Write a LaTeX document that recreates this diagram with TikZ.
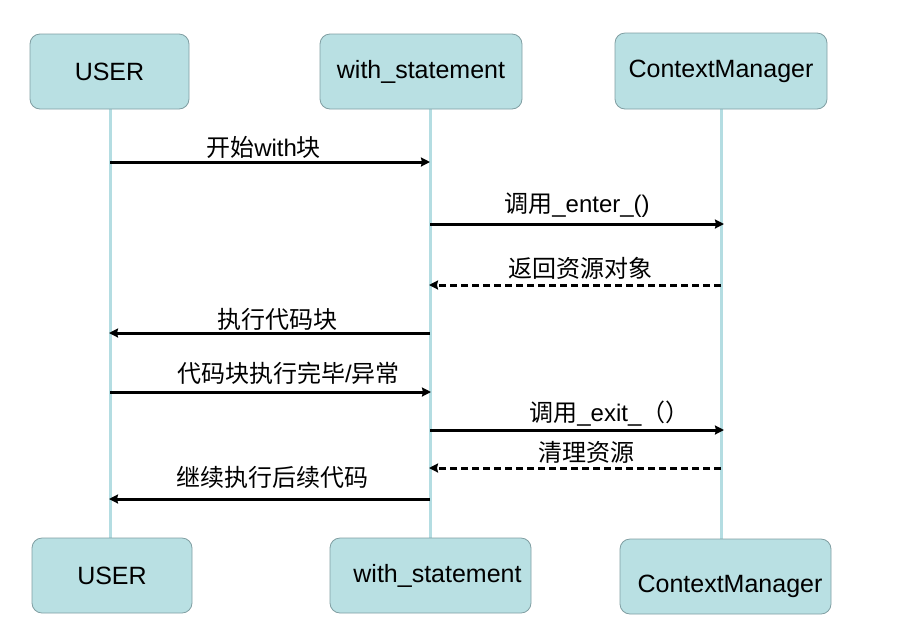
\documentclass[tikz,border=0pt]{standalone}
\usepackage{fontspec}
\setmainfont{Liberation Sans}
\newfontfamily\cjk{Noto Sans CJK SC}
\usetikzlibrary{arrows.meta}
\definecolor{boxfill}{RGB}{185,224,227}
\definecolor{boxdraw}{RGB}{128,158,162}
\definecolor{lifecol}{RGB}{180,221,226}
\tikzset{
  actor/.style={draw=boxdraw, fill=boxfill, rounded corners=10pt, line width=0.8pt,
    inner sep=0pt, font=\fontsize{25}{29}\selectfont},
  life/.style={draw=lifecol, line width=3pt},
  msg/.style={line width=3pt, -{Stealth[length=9pt,width=9pt,inset=1pt]}},
  ret/.style={msg, dash pattern=on 7pt off 4pt},
  lbl/.style={font=\fontsize{24}{28}\selectfont, inner sep=0pt, anchor=center}
}
\begin{document}
\begin{tikzpicture}[x=1pt,y=-1pt]
\useasboundingbox (0,0) rectangle (916,641);
% lifelines
\coordinate (uT) at (110,109); \coordinate (uB) at (110,538);
\coordinate (wT) at (430,109); \coordinate (wB) at (430,538);
\coordinate (cT) at (721,109); \coordinate (cB) at (721,539);
\draw[life] (uT) -- (uB);
\draw[life] (wT) -- (wB);
\draw[life] (cT) -- (cB);
% boxes
\node[actor, minimum width=159pt, minimum height=75pt] (user1) at (109.5,71.5) {USER};
\node[actor, minimum width=202pt, minimum height=75pt] (with1) at (421,71.5) {with\_statement};
\node[actor, minimum width=212pt, minimum height=76pt] (cm1) at (721,71) {ContextManager};
\node[actor, minimum width=160pt, minimum height=75pt] (user2) at (112,575.5) {USER};
\node[actor, minimum width=201pt, minimum height=75pt] (with2) at (430.5,575.5) {\hspace*{14pt}with\_statement};
\node[actor, minimum width=211pt, minimum height=75pt, text height=36pt, text depth=5pt] (cm2) at (725.5,576.5) {\hspace*{9pt}ContextManager};
% message endpoints
\coordinate (u1) at (110,162); \coordinate (w1) at (430,162);
\coordinate (w2) at (430,224); \coordinate (c2) at (724,224);
\coordinate (c3) at (721,285); \coordinate (w3) at (429,285);
\coordinate (w4) at (430,333); \coordinate (u4) at (109,333);
\coordinate (u5) at (110,392); \coordinate (w5) at (431,392);
\coordinate (w6) at (430,430); \coordinate (c6) at (724,430);
\coordinate (c7) at (721,468); \coordinate (w7) at (429,468);
\coordinate (w8) at (430,499); \coordinate (u8) at (109,499);
% messages
\draw[msg] (u1) -- node[lbl, pos=0.48, yshift=15pt] (l1) {{\cjk 开始}with{\cjk 块}} (w1);
\draw[msg] (w2) -- node[lbl, pos=0.50, yshift=19pt] (l2) {{\cjk 调用}\_enter\_()} (c2);
\draw[ret] (c3) -- node[lbl, pos=0.48, yshift=17pt] (l3) {\cjk 返回资源对象} (w3);
\draw[msg] (w4) -- node[lbl, pos=0.475, yshift=14pt] (l4) {\cjk 执行代码块} (u4);
\draw[msg] (u5) -- node[lbl, pos=0.556, yshift=19pt] (l5) {{\cjk 代码块执行完毕}/{\cjk 异常}} (w5);
\draw[msg] (w6) -- node[lbl, pos=0.61, yshift=16pt] (l6) {{\cjk 调用}\_exit\_{\cjk （）}} (c6);
\draw[ret] (c7) -- node[lbl, pos=0.46, yshift=16pt] (l7) {\cjk 清理资源} (w7);
\draw[msg] (w8) -- node[lbl, pos=0.49, yshift=22pt] (l8) {\cjk 继续执行后续代码} (u8);
\end{tikzpicture}
\end{document}
